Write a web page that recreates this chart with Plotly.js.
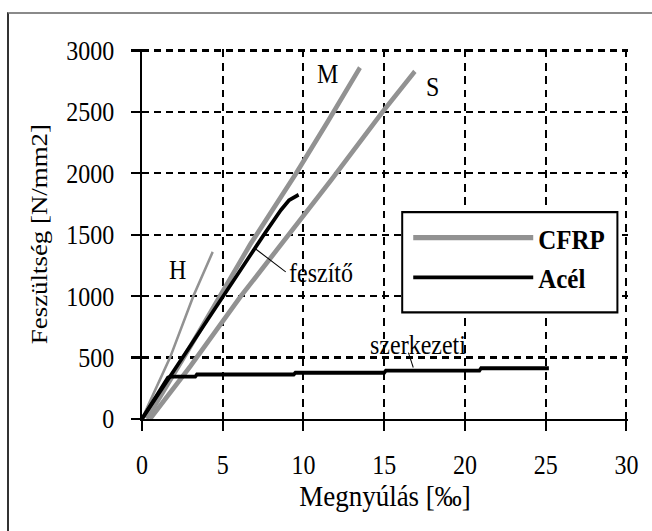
<!DOCTYPE html>
<html>
<head>
<meta charset="utf-8">
<script src="https://cdn.plot.ly/plotly-3.0.1.min.js"></script>
<style>
  html, body { margin: 0; padding: 0; background: #fff; overflow: hidden; }
  #page { position: relative; width: 652px; height: 531px; background: #fff; overflow: hidden; }
  #chart { position: absolute; left: 0; top: 0; width: 652px; height: 474px;
           transform: scaleY(1.12); transform-origin: 0 0; z-index: 1; }
  #frame { position: absolute; left: 7px; top: 12px; right: -10px; bottom: -10px;
           border-top: 2px solid #8a8a8a; border-left: 2px solid #333;
           z-index: 2; pointer-events: none; }
</style>
</head>
<body>
<div id="page">
  <div id="chart"></div>
  <div id="frame"></div>
</div>
<script>
// Stress–strain curves: strain in ‰, stress in N/mm2
const cfrpM_strain = [0.3, 3.0, 6.7, 9.5, 11.5, 13.5];
const cfrpM_stress = [0, 590, 1420, 1990, 2420, 2860];

const cfrpS_strain = [0.5, 3.0, 6.1, 9.0, 11.7, 14.9, 16.9];
const cfrpS_stress = [0, 430, 995, 1480, 1943, 2500, 2830];

const cfrpH_strain = [0, 1.74, 3.18, 4.38];
const cfrpH_stress = [0, 500, 1000, 1360];

const feszito_strain = [0, 2.5, 5.0, 6.7, 7.6, 8.6, 9.1, 9.7];
const feszito_stress = [0, 500, 1000, 1330, 1510, 1700, 1780, 1825];

const szerkezeti_strain = [0, 1.6, 1.8, 3.3, 3.4, 9.4, 9.5, 15.0, 15.1, 20.9, 21.0, 25.2];
const szerkezeti_stress = [0, 335, 344, 344, 362, 362, 376, 376, 393, 393, 413, 413];

const xTicks = [0, 5, 10, 15, 20, 25, 30];
const yTicks = [0, 500, 1000, 1500, 2000, 2500, 3000];

const legendNames = ['CFRP', 'Acél'];
const xTitle = 'Megnyúlás [‰]';
const yTitle = 'Feszültség [N/mm2]';

const GRAY = '#929292';
const BLACK = '#000';
const SERIF = '"Liberation Serif", "Times New Roman", serif';

const traces = [
  { x: cfrpH_strain, y: cfrpH_stress, mode: 'lines', line: { color: GRAY, width: 2.5 },
    legendgroup: 'cfrp', showlegend: false, hoverinfo: 'skip' },
  { x: cfrpS_strain, y: cfrpS_stress, mode: 'lines', line: { color: GRAY, width: 4.5 },
    legendgroup: 'cfrp', showlegend: false, hoverinfo: 'skip' },
  { x: cfrpM_strain, y: cfrpM_stress, mode: 'lines', line: { color: GRAY, width: 4.5 },
    name: '<b>' + legendNames[0] + '</b>', legendgroup: 'cfrp', showlegend: true, hoverinfo: 'skip' },
  { x: szerkezeti_strain, y: szerkezeti_stress, mode: 'lines', line: { color: BLACK, width: 3.5 },
    legendgroup: 'acel', showlegend: false, hoverinfo: 'skip' },
  { x: feszito_strain, y: feszito_stress, mode: 'lines', line: { color: BLACK, width: 3.5 },
    name: '<b>' + legendNames[1] + '</b>', legendgroup: 'acel', showlegend: true, hoverinfo: 'skip' }
];

const axisCommon = {
  showline: true, linecolor: BLACK, linewidth: 2,
  ticks: 'outside', ticklen: 9, tickwidth: 2, tickcolor: BLACK,
  showgrid: true, gridcolor: BLACK, gridwidth: 2, griddash: '7px,5px',
  zeroline: false, tickfont: { family: SERIF, size: 24, color: BLACK },
  fixedrange: true
};

const labelFont = { family: SERIF, size: 24, color: BLACK };

// legend frame in paper units (plot area spans 142..627.6 px wide, 43.5..374.1 px tall)
const legBox = { x0: 0.5354, x1: 0.9782, y0: 0.2879, y1: 0.5594 };

const layout = {
  width: 652, height: 474,
  margin: { l: 142, r: 24.4, t: 43.5, b: 100 },
  paper_bgcolor: 'rgba(0,0,0,0)', plot_bgcolor: '#fff',
  showlegend: true,
  xaxis: Object.assign({}, axisCommon, {
    range: [0, 30.1], tickvals: xTicks, ticklabelstandoff: 9,
    title: { text: xTitle, font: { family: SERIF, size: 27, color: BLACK }, standoff: 4 }
  }),
  yaxis: Object.assign({}, axisCommon, {
    range: [0, 3010], tickvals: yTicks, ticklabelstandoff: 12,
    title: { text: yTitle, font: { family: SERIF, size: 24, color: BLACK }, standoff: 12 }
  }),
  legend: {
    x: 0.5478, y: 0.5594, xanchor: 'left', yanchor: 'top',
    bgcolor: 'rgba(0,0,0,0)', borderwidth: 0,
    font: { family: SERIF, size: 25, color: BLACK },
    itemwidth: 120, tracegroupgap: 0, traceorder: 'normal'
  },
  annotations: [
    { x: 11.5, y: 2805, text: 'M', showarrow: false, font: labelFont },
    { x: 18.0, y: 2704, text: 'S', showarrow: false, font: labelFont },
    { x: 2.2, y: 1211, text: 'H', showarrow: false, font: labelFont },
    { x: 8.95, y: 1184, text: 'feszítő', xanchor: 'left', showarrow: false, font: labelFont },
    { x: 17.1, y: 602, text: 'szerkezeti', showarrow: false, font: labelFont }
  ],
  shapes: [
    // leader lines from the labels to their curves
    { type: 'line', xref: 'x', yref: 'y', x0: 7.0, y0: 1388, x1: 8.9, y1: 1197,
      line: { color: BLACK, width: 1 } },
    { type: 'line', xref: 'x', yref: 'y', x0: 16.5, y0: 540, x1: 16.8, y1: 418,
      line: { color: BLACK, width: 1 } },
    // legend frame
    { type: 'rect', xref: 'paper', yref: 'paper', layer: 'above',
      x0: legBox.x0, x1: legBox.x1, y0: legBox.y0, y1: legBox.y1,
      fillcolor: '#fff', line: { color: BLACK, width: 2 } }
  ]
};

Plotly.newPlot('chart', traces, layout, { displayModeBar: false, staticPlot: true });
</script>
</body>
</html>
